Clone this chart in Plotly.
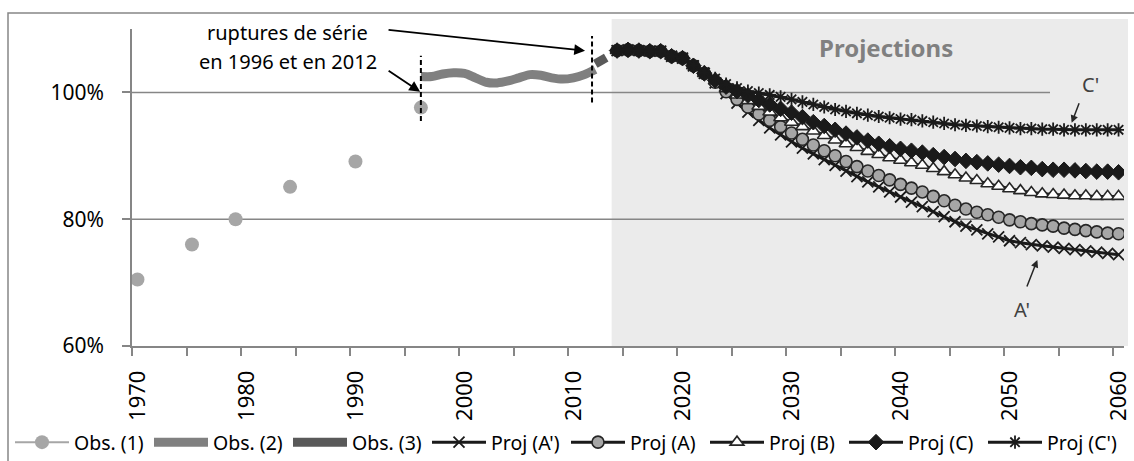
import plotly.graph_objects as go

FONT = "Noto Sans"
GRID = "#868686"

# Observed ratio (%), three successive series with breaks in 1996 and 2012
obs1_years = [1970, 1975, 1979, 1984, 1990, 1996]
obs1_values = [70.5, 76.0, 80.0, 85.1, 89.1, 97.6]

obs2_years = list(range(1996, 2013))
obs2_values = [102.5, 102.5, 102.9, 103.1, 103.0, 102.3, 101.6, 101.5, 101.8,
               102.3, 102.8, 102.7, 102.3, 102.1, 102.3, 102.8, 103.6]

obs3_years = [2012, 2013]
obs3_values = [104.5, 105.5]

# Projections 2014-2060
proj_years = list(range(2014, 2061))
proj_A_prime = [106.6, 106.7, 106.6, 106.5, 106.5, 105.7, 105.4, 104.2, 103.0,
                101.5, 99.8, 98.3, 96.9, 95.6, 94.4, 93.3, 92.2, 91.2, 90.3,
                89.4, 88.5, 87.6, 86.7, 85.9, 85.1, 84.3, 83.5, 82.7, 82.0,
                81.2, 80.4, 79.6, 78.9, 78.3, 77.7, 77.2, 76.6, 76.3, 76.0,
                75.8, 75.6, 75.4, 75.2, 75.0, 74.8, 74.6, 74.4]
proj_A = [106.6, 106.7, 106.6, 106.5, 106.5, 105.7, 105.4, 104.2, 103.0,
          101.6, 100.1, 98.9, 97.7, 96.6, 95.6, 94.6, 93.6, 92.6, 91.7,
          90.8, 90.0, 89.1, 88.3, 87.6, 86.9, 86.2, 85.5, 84.9, 84.3,
          83.6, 82.9, 82.2, 81.6, 81.1, 80.7, 80.3, 79.9, 79.6, 79.3,
          79.1, 78.9, 78.6, 78.4, 78.2, 78.0, 77.8, 77.7]
proj_B = [106.6, 106.7, 106.6, 106.5, 106.5, 105.7, 105.4, 104.2, 103.0,
          101.8, 100.6, 99.6, 98.7, 97.8, 96.9, 96.0, 95.3, 94.6, 93.9,
          93.2, 92.5, 91.9, 91.3, 90.7, 90.2, 89.7, 89.3, 88.9, 88.5,
          88.0, 87.5, 87.0, 86.5, 86.1, 85.6, 85.2, 84.8, 84.5, 84.2,
          84.0, 83.9, 83.8, 83.7, 83.7, 83.6, 83.6, 83.6]
proj_C = [106.6, 106.7, 106.6, 106.5, 106.5, 105.7, 105.4, 104.2, 103.0,
          101.9, 100.9, 100.2, 99.5, 98.8, 98.1, 97.4, 96.8, 96.1, 95.3,
          94.7, 94.1, 93.5, 92.9, 92.4, 91.9, 91.5, 91.1, 90.8, 90.5,
          90.1, 89.8, 89.5, 89.2, 89.0, 88.8, 88.6, 88.4, 88.2, 88.1,
          87.9, 87.8, 87.8, 87.7, 87.6, 87.5, 87.5, 87.4]
proj_C_prime = [106.6, 106.7, 106.6, 106.5, 106.5, 105.7, 105.4, 104.3, 103.2,
                102.2, 101.3, 100.7, 100.2, 99.9, 99.6, 99.3, 98.9, 98.5, 98.1,
                97.7, 97.3, 97.0, 96.7, 96.4, 96.2, 96.0, 95.8, 95.7, 95.5,
                95.3, 95.1, 94.9, 94.8, 94.7, 94.6, 94.5, 94.4, 94.3, 94.3,
                94.2, 94.2, 94.1, 94.1, 94.1, 94.1, 94.1, 94.1]

# Axis settings
x_range = [1969.5, 2060.5]
y_range = [60, 110]
x_labels = list(range(1970, 2061, 10))
x_bounds = [1969.5 + 5 * k for k in range(19)]
y_ticks = [60, 80, 100]

# Obs (1): yearly grid with gaps so the census points stay unconnected
obs1_lookup = dict(zip(obs1_years, obs1_values))
obs1_x = list(range(obs1_years[0], obs1_years[-1] + 1))
obs1_y = [obs1_lookup.get(yr) for yr in obs1_x]

fig = go.Figure()

fig.add_trace(go.Scatter(
    x=obs1_x, y=obs1_y, name="Obs. (1)", mode="lines+markers",
    connectgaps=False,
    line=dict(color="#a6a6a6", width=2),
    marker=dict(symbol="circle", size=14, color="#a6a6a6"),
))
fig.add_trace(go.Scatter(
    x=obs2_years, y=obs2_values, name="Obs. (2)", mode="lines",
    line=dict(color="#808080", width=9, shape="spline", smoothing=0.8),
))
fig.add_trace(go.Scatter(
    x=obs3_years, y=obs3_values, name="Obs. (3)", mode="lines",
    line=dict(color="#595959", width=9),
))

proj_style = [
    ("Proj (A')", proj_A_prime, dict(symbol="x-thin", size=11, color="#1a1a1a",
                                     line=dict(width=1.8, color="#1a1a1a"))),
    ("Proj (A)", proj_A, dict(symbol="circle", size=12, color="#a6a6a6",
                              line=dict(width=1.6, color="#262626"))),
    ("Proj (B)", proj_B, dict(symbol="triangle-up", size=12, color="white",
                              line=dict(width=1.6, color="#262626"))),
    ("Proj (C)", proj_C, dict(symbol="diamond", size=12, color="#1a1a1a",
                              line=dict(width=1, color="#1a1a1a"))),
    ("Proj (C')", proj_C_prime, dict(symbol="asterisk", size=11, color="#1a1a1a",
                                     line=dict(width=1.8, color="#1a1a1a"))),
]
for name, values, marker in proj_style:
    fig.add_trace(go.Scatter(
        x=proj_years, y=values, name=name, mode="lines+markers",
        line=dict(color="#1a1a1a", width=3),
        marker=marker,
    ))

# Helpers to place decorations in paper space
PLOT_L, PLOT_R, PLOT_T, PLOT_B = 132, 1124, 29, 346


def px_x(px):
    return (px - PLOT_L) / (PLOT_R - PLOT_L)


def px_y(px):
    return (PLOT_B - px) / (PLOT_B - PLOT_T)


def year_x(year):
    return (year - x_range[0]) / (x_range[1] - x_range[0])


shapes = [
    # shaded projection period
    dict(type="rect", xref="paper", yref="paper",
         x0=year_x(2013.5), x1=px_x(1128), y0=0, y1=px_y(19),
         fillcolor="#ebebeb", line=dict(width=0), layer="below"),
    # gridlines
    dict(type="line", xref="paper", yref="y", x0=0, x1=1, y0=80, y1=80,
         line=dict(color=GRID, width=1.5), layer="below"),
    dict(type="line", xref="paper", yref="y", x0=0, x1=px_x(1050), y0=100, y1=100,
         line=dict(color=GRID, width=1.5), layer="below"),
    # series breaks
    dict(type="line", xref="x", yref="y", x0=1996, x1=1996, y0=95.5, y1=105.8,
         line=dict(color="black", width=2, dash="5px,3px")),
    dict(type="line", xref="x", yref="y", x0=2011.7, x1=2011.7, y0=98.4, y1=108.9,
         line=dict(color="black", width=2, dash="5px,3px")),
    # chart border
    dict(type="rect", xref="paper", yref="paper",
         x0=px_x(8), x1=px_x(1145), y0=px_y(475), y1=px_y(13),
         line=dict(color=GRID, width=1.5), fillcolor="rgba(0,0,0,0)"),
]

annotations = [
    dict(text="ruptures de série", x=1983.8, y=109.4, xref="x", yref="y",
         showarrow=False, font=dict(size=20, color="black")),
    dict(text="en 1996 et en 2012", x=1983.8, y=104.8, xref="x", yref="y",
         showarrow=False, font=dict(size=20, color="black")),
    dict(text="", x=2011.06, y=106.57, xref="x", yref="y", ax=-198, ay=-21,
         showarrow=True, arrowhead=2, arrowsize=1.2, arrowwidth=1.8,
         arrowcolor="black", standoff=0),
    dict(text="", x=1995.93, y=100.1, xref="x", yref="y", ax=-33, ay=-22,
         showarrow=True, arrowhead=2, arrowsize=1.2, arrowwidth=1.8,
         arrowcolor="black", standoff=0),
    dict(text="<b>Projections</b>", x=2038.7, y=107.04, xref="x", yref="y",
         showarrow=False, font=dict(size=24, color="#808080")),
    dict(text="C'", x=2057.4, y=101.2, xref="x", yref="y",
         showarrow=False, font=dict(size=20, color="#404040")),
    dict(text="", x=2055.7, y=95.2, xref="x", yref="y", ax=8, ay=-21,
         showarrow=True, arrowhead=2, arrowsize=1, arrowwidth=1.5,
         arrowcolor="#262626", standoff=0),
    dict(text="A'", x=2051.1, y=65.7, xref="x", yref="y",
         showarrow=False, font=dict(size=20, color="#404040")),
    dict(text="", x=2052.55, y=73.58, xref="x", yref="y", ax=-11, ay=28,
         showarrow=True, arrowhead=2, arrowsize=1, arrowwidth=1.5,
         arrowcolor="#262626", standoff=0),
]

fig.update_layout(
    width=1134, height=461,
    margin=dict(l=PLOT_L, r=1134 - PLOT_R, t=PLOT_T, b=461 - PLOT_B, autoexpand=False),
    paper_bgcolor="white", plot_bgcolor="rgba(0,0,0,0)",
    font=dict(family=FONT, color="black"),
    shapes=shapes, annotations=annotations,
    showlegend=True,
    legend=dict(orientation="h", x=px_x(10), xanchor="left",
                y=px_y(423), yanchor="top",
                font=dict(size=19.5, color="black"),
                itemwidth=54, entrywidth=70, entrywidthmode="pixels",
                bgcolor="rgba(0,0,0,0)", borderwidth=0),
    xaxis=dict(range=x_range, tickmode="array", tickvals=x_labels,
               ticktext=[str(v) for v in x_labels], ticks="", tickangle=-90,
               tickfont=dict(size=22), ticklabelstandoff=14,
               showline=True, linecolor=GRID, linewidth=1.5,
               showgrid=False, zeroline=False,
               minor=dict(tickmode="array", tickvals=x_bounds, ticks="outside",
                          ticklen=8, tickwidth=1.5, tickcolor=GRID, showgrid=False)),
    yaxis=dict(range=y_range, tickmode="array", tickvals=y_ticks,
               ticktext=[f"{v}%" for v in y_ticks], ticks="outside", ticklen=8,
               tickwidth=1.5, tickcolor=GRID, tickfont=dict(size=21),
               ticklabelstandoff=14,
               showline=True, linecolor=GRID, linewidth=1.5,
               showgrid=False, zeroline=False),
)

fig.write_html("out.html")
